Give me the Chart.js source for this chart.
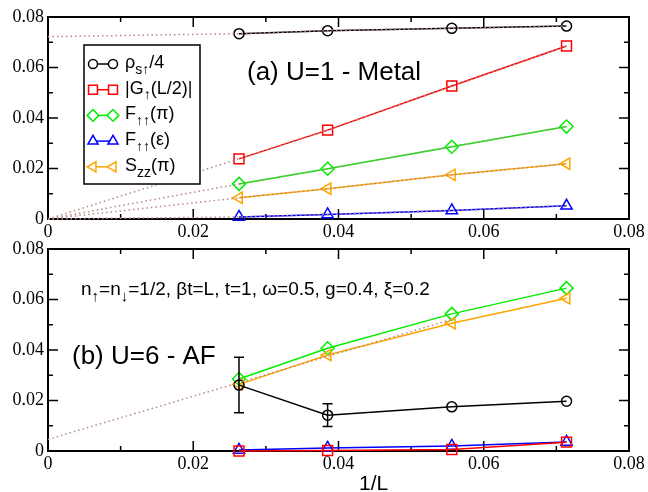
<!DOCTYPE html>
<html>
<head>
<meta charset="utf-8">
<script src="https://cdn.jsdelivr.net/npm/chart.js@4/dist/chart.umd.min.js"></script>
<style>
  body { margin: 0; background: #fff; width: 648px; height: 492px; position: relative; overflow: hidden; }
  canvas { position: absolute; left: 0; }
  #chart-a { top: 0; }
  #chart-b { top: 232px; }
</style>
</head>
<body>
<canvas id="chart-a" width="648" height="245"></canvas>
<canvas id="chart-b" width="648" height="260"></canvas>
<script>
// 1/L for L = 38, 26, 18, 14
const xL = [0.0263, 0.0385, 0.0556, 0.0714];

// (a) U=1 - Metal
const rhoA  = [0.0734, 0.0746, 0.0755, 0.0764];
const gA    = [0.0238, 0.0352, 0.0527, 0.0685];
const fpiA  = [0.0139, 0.0199, 0.0286, 0.0366];
const fepsA = [0.0008, 0.0018, 0.0034, 0.0052];
const szzA  = [0.0084, 0.0120, 0.0175, 0.0219];
// extrapolated value at 1/L = 0 for each fit (dotted)
const fitStartA = { rho: 0.0722, g: 0, fpi: 0, feps: 0, szz: 0 };

// (b) U=6 - AF
const rhoB    = [0.0261, 0.0142, 0.0175, 0.0197];
const rhoErrB = [0.0110, 0.0045, 0, 0];
const gB      = [0.0000, 0.0002, 0.0006, 0.0035];
const fpiB    = [0.0285, 0.0407, 0.0543, 0.0645];
const fepsB   = [0.0004, 0.0012, 0.0020, 0.0036];
const szzB    = [0.0264, 0.0380, 0.0506, 0.0605];
const fitXB   = [0, 0.0556];
const fitYB   = [0.0046, 0.0521];

const xTicks = [0, 0.02, 0.04, 0.06, 0.08];
const xTickLabels = ['0', '0.02', '0.04', '0.06', '0.08'];
const xMinor = [0.01, 0.03, 0.05, 0.07];
const yTicks = [0, 0.02, 0.04, 0.06, 0.08];
const yTickLabels = ['0', '0.02', '0.04', '0.06', '0.08'];
const yMinor = [0.01, 0.03, 0.05, 0.07];

const legendLabels = [
  [['ρ'], ['s↑', 1], ['/4']],
  [['|G'], ['↑', 1], ['(L/2)|']],
  [['F'], ['↑↑', 1], ['(π)']],
  [['F'], ['↑↑', 1], ['(ε)']],
  [['S'], ['zz', 1], ['(π)']]
];
const paramText = [['n'], ['↑', 1], ['=n'], ['↓', 1], ['=1/2, βt=L, t=1, ω=0.5, g=0.4, ξ=0.2']];

const SANS = '"Liberation Sans", Arial, "DejaVu Sans", sans-serif';
const SERIF = '"Liberation Serif", "Times New Roman", serif';
const FIT_COLOR = '#b88888';

const styles = {
  rho:  { color: '#000000', pointStyle: 'circle',   radius: 5,   rotation: 0 },
  g:    { color: '#ff0000', pointStyle: 'rect',     radius: 7,   rotation: 0 },
  fpi:  { color: '#00ee00', pointStyle: 'rectRot',  radius: 6.5, rotation: 0 },
  feps: { color: '#0000ff', pointStyle: 'triangle', radius: 6.5, rotation: 0 },
  szz:  { color: '#ffa500', pointStyle: 'triangle', radius: 6.5, rotation: -90 }
};
const order = ['rho', 'g', 'fpi', 'feps', 'szz'];

function series(values, key) {
  const s = styles[key];
  return {
    data: xL.map((x, i) => ({ x: x, y: values[i] })),
    borderColor: s.color,
    borderWidth: 1.5,
    pointStyle: s.pointStyle,
    pointRadius: s.radius,
    pointRotation: s.rotation,
    pointBorderColor: s.color,
    pointBorderWidth: 1.5,
    pointBackgroundColor: 'rgba(0,0,0,0)',
    tension: 0,
    clip: false,
    order: 1
  };
}

function fitLine(xs, ys) {
  return {
    data: xs.map((x, i) => ({ x: x, y: ys[i] })),
    borderColor: FIT_COLOR,
    borderWidth: 1.5,
    borderDash: [1.5, 3],
    pointRadius: 0,
    tension: 0,
    clip: false,
    order: 0
  };
}

function drawRich(ctx, x, y, parts, size) {
  let cx = x;
  parts.forEach(p => {
    const sub = p[1] === 1;
    const fs = sub ? Math.round(size * 0.78) : size;
    ctx.font = fs + 'px ' + SANS;
    ctx.fillText(p[0], cx, sub ? y + size * 0.32 : y);
    cx += ctx.measureText(p[0]).width;
  });
}

// frame with inward ticks on all four sides
const frameTicks = {
  id: 'frameTicks',
  beforeDatasetsDraw(chart) {
    const { ctx, chartArea: a, scales: { x, y } } = chart;
    ctx.save();
    ctx.strokeStyle = '#000';
    ctx.lineWidth = 1.5;
    ctx.beginPath();
    const xt = (v, len) => {
      const px = x.getPixelForValue(v);
      ctx.moveTo(px, a.bottom); ctx.lineTo(px, a.bottom - len);
      ctx.moveTo(px, a.top); ctx.lineTo(px, a.top + len);
    };
    const yt = (v, len) => {
      const py = y.getPixelForValue(v);
      ctx.moveTo(a.left, py); ctx.lineTo(a.left + len, py);
      ctx.moveTo(a.right, py); ctx.lineTo(a.right - len, py);
    };
    xTicks.forEach(v => xt(v, 10));
    xMinor.forEach(v => xt(v, 5));
    yTicks.forEach(v => yt(v, 10));
    yMinor.forEach(v => yt(v, 5));
    ctx.stroke();
    ctx.lineWidth = 2;
    ctx.strokeRect(a.left, a.top, a.right - a.left, a.bottom - a.top);
    ctx.restore();
  }
};

function options() {
  return {
    responsive: false,
    animation: false,
    layout: { padding: { left: 0, right: 19, top: 17, bottom: 0 } },
    plugins: { legend: { display: false }, tooltip: { enabled: false } },
    scales: {
      x: {
        type: 'linear', min: 0, max: 0.08,
        afterFit: s => { s.height = 26; },
        afterBuildTicks: s => { s.ticks = xTicks.map(v => ({ value: v })); },
        grid: { display: false, drawTicks: false },
        border: { display: false },
        ticks: {
          padding: 2, color: '#000', maxRotation: 0, autoSkip: false,
          font: { family: SERIF, size: 18 },
          callback: (v, i) => xTickLabels[i]
        }
      },
      y: {
        type: 'linear', min: 0, max: 0.08,
        afterFit: s => { s.width = 48; },
        afterBuildTicks: s => { s.ticks = yTicks.map(v => ({ value: v })); },
        grid: { display: false, drawTicks: false },
        border: { display: false },
        ticks: {
          padding: 4, color: '#000', autoSkip: false,
          font: { family: SERIF, size: 18 },
          callback: (v, i) => yTickLabels[i]
        }
      }
    }
  };
}

const legendA = {
  id: 'legendA',
  afterDraw(chart) {
    const ctx = chart.ctx;
    ctx.save();
    ctx.fillStyle = '#fff';
    ctx.fillRect(84, 45, 116, 139);
    ctx.strokeStyle = '#000';
    ctx.lineWidth = 1.5;
    ctx.strokeRect(84, 45, 116, 139);
    order.forEach((key, i) => {
      const s = styles[key];
      const ry = 64 + i * 25.7;
      ctx.strokeStyle = s.color;
      ctx.lineWidth = 1.5;
      ctx.beginPath();
      ctx.moveTo(94, ry); ctx.lineTo(113, ry);
      ctx.stroke();
      [93, 113].forEach(px => {
        ctx.fillStyle = '#fff';
        Chart.helpers.drawPoint(ctx, {
          pointStyle: s.pointStyle, rotation: s.rotation,
          radius: s.radius * 0.9, borderWidth: 1.5
        }, px, ry);
      });
      ctx.fillStyle = '#000';
      ctx.textBaseline = 'alphabetic';
      drawRich(ctx, 125, ry + 4, legendLabels[i], 18);
    });
    ctx.fillStyle = '#000';
    ctx.font = '26px ' + SANS;
    ctx.fillText('(a) U=1 - Metal', 247, 80);
    ctx.restore();
  }
};

const extrasB = {
  id: 'extrasB',
  afterDatasetsDraw(chart) {
    const { ctx, scales: { x, y } } = chart;
    ctx.save();
    ctx.strokeStyle = '#000';
    ctx.lineWidth = 1.5;
    ctx.beginPath();
    xL.forEach((xv, i) => {
      if (!rhoErrB[i]) return;
      const px = x.getPixelForValue(xv);
      const y1 = y.getPixelForValue(rhoB[i] + rhoErrB[i]);
      const y2 = y.getPixelForValue(rhoB[i] - rhoErrB[i]);
      ctx.moveTo(px, y1); ctx.lineTo(px, y2);
      ctx.moveTo(px - 5, y1); ctx.lineTo(px + 5, y1);
      ctx.moveTo(px - 5, y2); ctx.lineTo(px + 5, y2);
    });
    ctx.stroke();
    ctx.restore();
  },
  afterDraw(chart) {
    const ctx = chart.ctx;
    ctx.save();
    ctx.fillStyle = '#000';
    ctx.textBaseline = 'alphabetic';
    drawRich(ctx, 81, 63, paramText, 19);
    ctx.font = '26px ' + SANS;
    ctx.fillText('(b) U=6 - AF', 72, 132);
    ctx.font = '21px ' + SANS;
    ctx.fillText('1/L', 359, 258);
    ctx.restore();
  }
};

const fitXA = [0].concat(xL);
new Chart(document.getElementById('chart-a'), {
  type: 'line',
  data: {
    datasets: [
      series(rhoA, 'rho'), series(gA, 'g'), series(fpiA, 'fpi'),
      series(fepsA, 'feps'), series(szzA, 'szz'),
      fitLine(fitXA, [fitStartA.rho].concat(rhoA)),
      fitLine(fitXA, [fitStartA.g].concat(gA)),
      fitLine(fitXA, [fitStartA.fpi].concat(fpiA)),
      fitLine(fitXA, [fitStartA.feps].concat(fepsA)),
      fitLine(fitXA, [fitStartA.szz].concat(szzA))
    ]
  },
  options: options(),
  plugins: [frameTicks, legendA]
});

const optB = options();
optB.scales.x.afterFit = s => { s.height = 41; };
new Chart(document.getElementById('chart-b'), {
  type: 'line',
  data: {
    datasets: [
      series(rhoB, 'rho'), series(gB, 'g'), series(fepsB, 'feps'),
      series(szzB, 'szz'), series(fpiB, 'fpi'),
      fitLine(fitXB, fitYB)
    ]
  },
  options: optB,
  plugins: [frameTicks, extrasB]
});
</script>
</body>
</html>
